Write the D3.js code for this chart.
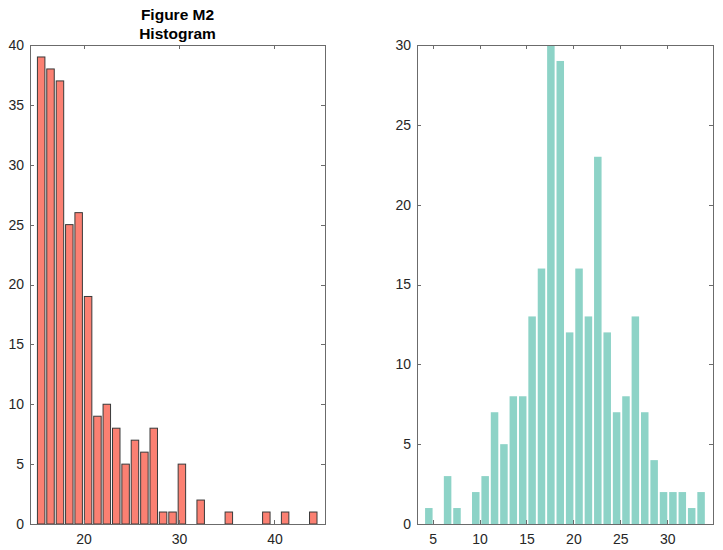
<!DOCTYPE html>
<html>
<head>
<meta charset="utf-8">
<script src="https://cdn.jsdelivr.net/npm/d3@7/dist/d3.min.js"></script>
<style>
  body { margin: 0; background: #fff; }
  svg { display: block; font-family: "Liberation Sans", Arial, Helvetica, sans-serif; }
</style>
</head>
<body>
<svg id="chart" width="723" height="550"></svg>
<script>
// Left histogram (Figure M2) – bin centers and counts
const leftCenters = [15.55, 16.53, 17.52, 18.50, 19.48, 20.47, 21.45, 22.43, 23.42, 24.40,
                     25.38, 26.37, 27.35, 28.33, 29.32, 30.30, 31.28, 32.27, 33.25, 34.23,
                     35.22, 36.20, 37.18, 38.17, 39.15, 40.13, 41.12, 42.10, 43.08, 44.07];
const leftCounts = [39, 38, 37, 25, 26, 19, 9, 10, 8, 5,
                    7, 6, 8, 1, 1, 5, 0, 2, 0, 0,
                    1, 0, 0, 0, 1, 0, 1, 0, 0, 1];
const leftXTicks = [20, 30, 40];
const leftYTicks = [0, 5, 10, 15, 20, 25, 30, 35, 40];
const leftTitle = ["Figure M2", "Histogram"];

// Right histogram
const rightCenters = [4.6, 5.6, 6.6, 7.6, 8.6, 9.6, 10.6, 11.6, 12.6, 13.6,
                      14.6, 15.6, 16.6, 17.6, 18.6, 19.6, 20.6, 21.6, 22.6, 23.6,
                      24.6, 25.6, 26.6, 27.6, 28.6, 29.6, 30.6, 31.6, 32.6, 33.6];
const rightCounts = [1, 0, 3, 1, 0, 2, 3, 7, 5, 8,
                     8, 13, 16, 30, 29, 12, 16, 13, 23, 12,
                     7, 8, 13, 7, 4, 2, 2, 2, 1, 2];
const rightXTicks = [5, 10, 15, 20, 25, 30];
const rightYTicks = [0, 5, 10, 15, 20, 25, 30];

const svg = d3.select("#chart");
const axisColor = "#6b6b6b";
const textColor = "#262626";
const tickLen = 4;

function panel(opt) {
  const g = svg.append("g");
  const x = d3.scaleLinear().domain(opt.xDomain).range([opt.left, opt.right]);
  const y = d3.scaleLinear().domain(opt.yDomain).range([opt.bottom, opt.top]);
  const binW = opt.centers[1] - opt.centers[0];
  const bw = x(opt.centers[0] + binW * opt.barFrac) - x(opt.centers[0]);

  // bars
  const clip = "clip" + opt.id;
  svg.append("clipPath").attr("id", clip).append("rect")
    .attr("x", opt.left).attr("y", opt.top)
    .attr("width", opt.right - opt.left).attr("height", opt.bottom - opt.top + 1);
  g.append("g").attr("clip-path", `url(#${clip})`)
    .selectAll("rect").data(opt.centers.map((c, i) => ({ c, v: opt.counts[i] })))
    .enter().filter(d => opt.drawZero || d.v > 0)
    .append("rect")
    .attr("x", d => x(d.c) - bw / 2)
    .attr("width", bw)
    .attr("y", d => y(d.v))
    .attr("height", d => y(0) - y(d.v))
    .attr("fill", opt.fill)
    .attr("stroke", opt.stroke || "none")
    .attr("stroke-width", opt.stroke ? 1 : 0);

  // axes (box with mirrored ticks)
  const axB = d3.axisBottom(x).tickValues(opt.xTicks).tickSize(0).tickPadding(10).tickFormat(d3.format("d"));
  const axL = d3.axisLeft(y).tickValues(opt.yTicks).tickSize(0).tickPadding(6).tickFormat(d3.format("d"));
  const gb = g.append("g").attr("transform", `translate(0,${opt.bottom})`).call(axB);
  const gl = g.append("g").attr("transform", `translate(${opt.left},0)`).call(axL);
  [gb, gl].forEach(a => {
    a.select(".domain").remove();
    a.selectAll("text").attr("fill", textColor).style("font-size", "14px")
      .style("font-family", '"Liberation Sans", Arial, Helvetica, sans-serif');
  });

  const ticks = g.append("g").attr("stroke", axisColor).attr("stroke-width", 1);
  opt.xTicks.forEach(t => {
    const xx = Math.round(x(t)) + 0.5;
    ticks.append("line").attr("x1", xx).attr("x2", xx).attr("y1", opt.bottom).attr("y2", opt.bottom - tickLen);
    ticks.append("line").attr("x1", xx).attr("x2", xx).attr("y1", opt.top).attr("y2", opt.top + tickLen);
  });
  opt.yTicks.forEach(t => {
    const yy = Math.round(y(t)) + 0.5;
    ticks.append("line").attr("x1", opt.left).attr("x2", opt.left + tickLen).attr("y1", yy).attr("y2", yy);
    ticks.append("line").attr("x1", opt.right).attr("x2", opt.right - tickLen).attr("y1", yy).attr("y2", yy);
  });
  g.append("rect")
    .attr("x", opt.left + 0.5).attr("y", opt.top + 0.5)
    .attr("width", opt.right - opt.left).attr("height", opt.bottom - opt.top)
    .attr("fill", "none").attr("stroke", axisColor).attr("stroke-width", 1);

  if (opt.title) {
    const cx = (opt.left + opt.right) / 2;
    opt.title.forEach((t, i) => {
      g.append("text").attr("x", cx).attr("y", 20 + i * 19)
        .attr("text-anchor", "middle").attr("fill", "#000")
        .style("font-size", "15.5px").style("font-weight", "bold").text(t);
    });
  }
}

panel({
  id: "L", left: 30, right: 325, top: 45, bottom: 524,
  xDomain: [14.38, 45.3], yDomain: [0, 40],
  centers: leftCenters, counts: leftCounts, barFrac: 0.8,
  xTicks: leftXTicks, yTicks: leftYTicks,
  fill: "#fb8072", stroke: "#3a3a3a", drawZero: true, title: leftTitle
});

panel({
  id: "R", left: 417, right: 713, top: 45, bottom: 524,
  xDomain: [3.34, 34.87], yDomain: [0, 30],
  centers: rightCenters, counts: rightCounts, barFrac: 0.8,
  xTicks: rightXTicks, yTicks: rightYTicks,
  fill: "#8dd3c7", stroke: null, drawZero: false
});
</script>
</body>
</html>
